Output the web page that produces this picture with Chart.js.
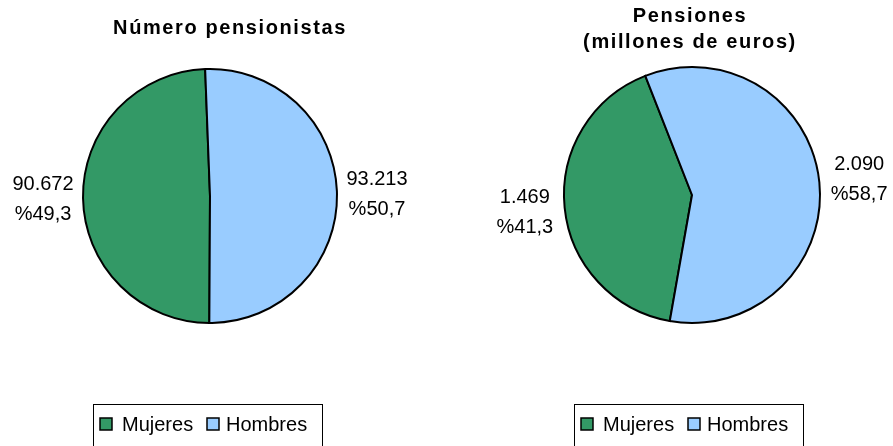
<!DOCTYPE html>
<html>
<head>
<meta charset="utf-8">
<script src="https://cdn.jsdelivr.net/npm/chart.js@4.4.0/dist/chart.umd.min.js"></script>
<style>
  html, body { margin: 0; padding: 0; background: #fff; overflow: hidden; }
  #wrap { position: relative; width: 893px; height: 446px; }
  canvas { position: absolute; top: 0; }
  #left { left: 0; }
  #right { left: 446px; }
</style>
</head>
<body>
<div id="wrap">
  <canvas id="left" width="446" height="446"></canvas>
  <canvas id="right" width="447" height="446"></canvas>
</div>
<script>
const categories = ["Mujeres", "Hombres"];
const pensionistas = [90672, 93213];
const pensiones = [1469, 2090];
const titleLeft = ["Número pensionistas"];
const titleRight = ["Pensiones", "(millones de euros)"];

const colors = ["#339966", "#99ccff"];
const FONT = "'Liberation Sans', Arial, sans-serif";

function fmtNum(v) {
  return String(v).replace(/\B(?=(\d{3})+(?!\d))/g, ".");
}
function fmtPct(v, total) {
  return "%" + (v / total * 100).toFixed(1).replace(".", ",");
}

// titles, outside labels and boxed legend
const decorPlugin = {
  id: "decor",
  afterDraw(chart, args, opts) {
    const ctx = chart.ctx;
    ctx.save();
    ctx.fillStyle = "#000";

    // title
    ctx.font = "bold 20px " + FONT;
    ctx.letterSpacing = "1.6px";
    ctx.textAlign = "center";
    ctx.textBaseline = "middle";
    opts.title.forEach((t, i) => {
      ctx.fillText(t, opts.titleX, opts.titleY + i * 26);
    });
    ctx.letterSpacing = "0px";

    // labels outside the arcs
    const ds = chart.data.datasets[0].data;
    const total = ds.reduce((a, b) => a + b, 0);
    ctx.font = "20px " + FONT;
    chart.getDatasetMeta(0).data.forEach((arc, i) => {
      const mid = (arc.startAngle + arc.endAngle) / 2;
      const r = arc.outerRadius + 40;
      const x = arc.x + Math.cos(mid) * r;
      const y = arc.y + Math.sin(mid) * r;
      ctx.fillText(fmtNum(ds[i]), x, y - 14);
      ctx.fillText(fmtPct(ds[i], total), x, y + 16);
    });

    // legend
    const lx = opts.legendX, ly = 404;
    ctx.strokeStyle = "#000";
    ctx.lineWidth = 1;
    ctx.strokeRect(lx + 0.5, ly + 0.5, 229, 60);
    const offs = [[7, 29], [114, 133]];
    ctx.textAlign = "left";
    chart.data.labels.forEach((lab, i) => {
      ctx.fillStyle = chart.data.datasets[0].backgroundColor[i];
      ctx.fillRect(lx + offs[i][0], 418, 12, 12);
      ctx.lineWidth = 1.5;
      ctx.strokeRect(lx + offs[i][0], 418, 12, 12);
      ctx.fillStyle = "#000";
      ctx.fillText(lab, lx + offs[i][1], 425);
    });
    ctx.restore();
  }
};

function makePie(id, values, rotation, padding, decor) {
  return new Chart(document.getElementById(id), {
    type: "pie",
    data: {
      labels: categories,
      datasets: [{
        data: values,
        backgroundColor: colors,
        borderColor: "#000",
        borderWidth: 2,
        borderJoinStyle: "miter"
      }]
    },
    options: {
      responsive: false,
      animation: false,
      devicePixelRatio: 1,
      rotation: rotation,
      layout: { padding: padding },
      plugins: {
        legend: { display: false },
        title: { display: false },
        tooltip: { enabled: false },
        decor: decor
      }
    },
    plugins: [decorPlugin]
  });
}

makePie("left", pensionistas, 180.3,
  { left: 82, right: 108, top: 68, bottom: 122 },
  { title: titleLeft, titleX: 230, titleY: 28, legendX: 93 });

makePie("right", pensiones, 190,
  { left: 117, right: 72, top: 66, bottom: 122 },
  { title: titleRight, titleX: 244, titleY: 16, legendX: 128 });
</script>
</body>
</html>
